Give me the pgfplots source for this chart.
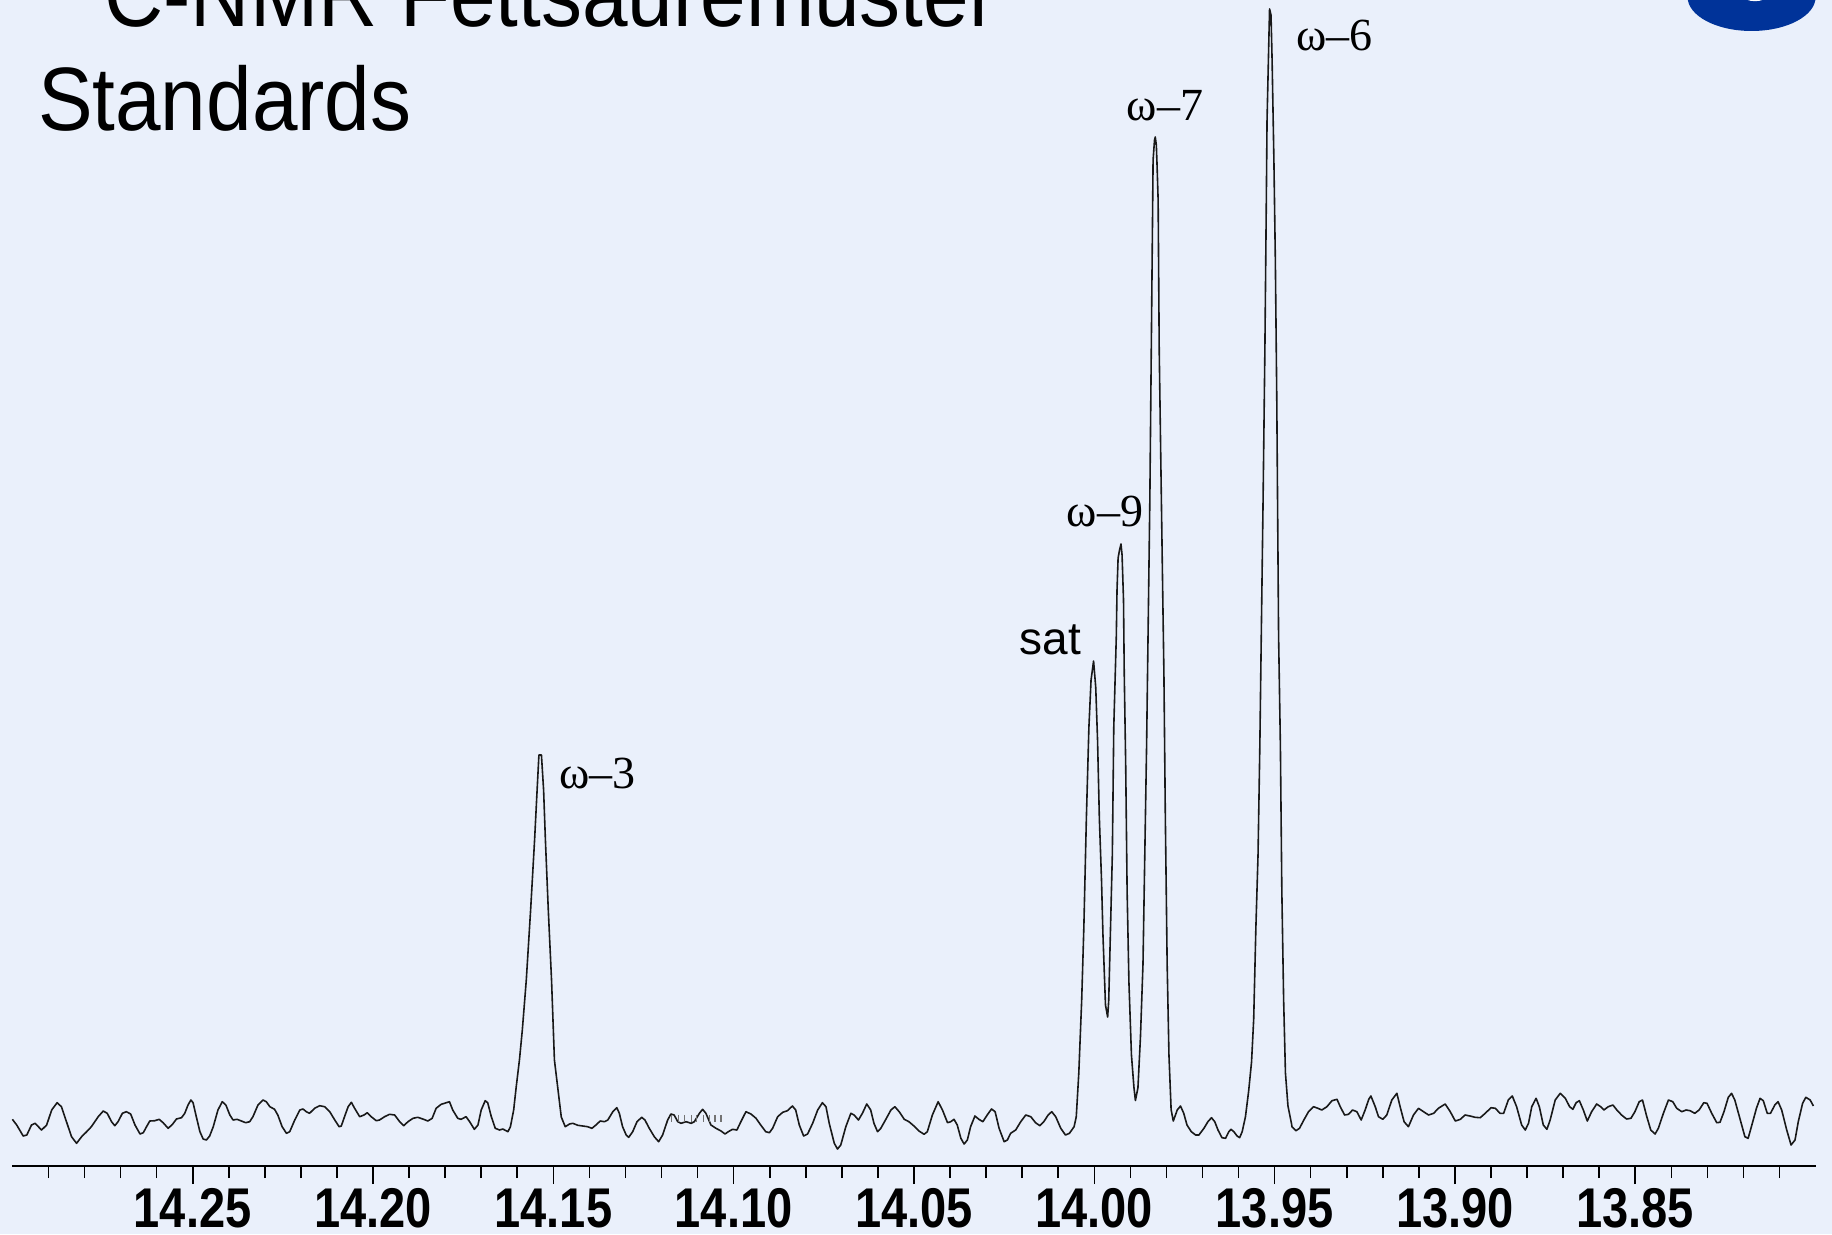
\documentclass[border=0pt]{standalone}
\usepackage{pgfplots}
\pgfplotsset{compat=1.18}
\usepackage{fontspec}
\setmainfont{Liberation Sans}
\newfontfamily\titlefont[FakeStretch=0.91]{Liberation Sans}
\newfontfamily\tickfont[FakeStretch=0.84]{Liberation Sans Bold}
\newfontfamily\peakfont{Liberation Serif}
\definecolor{bg}{RGB}{234,240,251}
\definecolor{logo}{RGB}{0,51,153}
\definecolor{trace}{RGB}{25,25,25}
\pgfplotstableread{
ppm h
14.3000 46.7
14.2988 41.0
14.2970 30.0
14.2960 31.0
14.2947 41.0
14.2937 42.7
14.2928 39.3
14.2919 36.0
14.2905 41.0
14.2891 56.0
14.2876 63.3
14.2864 59.3
14.2850 44.3
14.2836 29.3
14.2822 22.7
14.2808 29.3
14.2794 34.3
14.2781 39.3
14.2762 49.3
14.2748 55.0
14.2737 52.7
14.2725 44.3
14.2716 40.3
14.2707 44.3
14.2695 52.7
14.2684 54.3
14.2672 52.0
14.2660 41.0
14.2646 32.0
14.2637 33.3
14.2628 39.3
14.2619 45.0
14.2605 45.3
14.2593 46.7
14.2582 43.3
14.2568 37.7
14.2556 41.7
14.2545 47.0
14.2531 48.3
14.2522 52.7
14.2513 61.0
14.2505 66.0
14.2499 63.3
14.2490 49.3
14.2480 34.3
14.2471 27.0
14.2462 26.0
14.2453 30.0
14.2443 39.3
14.2430 56.0
14.2418 64.3
14.2408 61.0
14.2397 51.0
14.2388 46.0
14.2377 46.7
14.2365 45.0
14.2353 43.3
14.2342 44.3
14.2333 49.3
14.2319 61.0
14.2305 66.0
14.2296 64.3
14.2286 59.3
14.2273 56.7
14.2264 51.0
14.2252 39.3
14.2240 32.7
14.2231 34.3
14.2217 46.0
14.2203 56.0
14.2194 57.0
14.2185 54.3
14.2176 52.7
14.2162 57.7
14.2148 60.3
14.2134 59.3
14.2120 54.3
14.2106 46.0
14.2094 39.3
14.2088 40.0
14.2079 49.3
14.2069 59.3
14.2060 63.7
14.2051 57.7
14.2037 49.3
14.2025 51.0
14.2016 53.3
14.2005 49.3
14.1991 45.3
14.1982 46.0
14.1968 49.3
14.1954 51.7
14.1940 51.0
14.1926 44.3
14.1915 40.3
14.1903 44.3
14.1889 47.7
14.1876 48.7
14.1862 47.0
14.1848 45.0
14.1836 47.7
14.1825 57.7
14.1811 61.7
14.1802 62.7
14.1788 64.3
14.1779 56.0
14.1765 47.7
14.1756 46.7
14.1742 49.3
14.1732 44.3
14.1719 36.7
14.1709 41.0
14.1700 56.0
14.1689 65.3
14.1682 63.3
14.1672 49.3
14.1661 37.7
14.1649 36.0
14.1640 37.0
14.1626 34.3
14.1619 39.3
14.1610 56
14.1603 79
14.1594 106
14.1586 136
14.1575 186
14.1563 256
14.1552 326
14.1545 376
14.1540 411
14.1533 411
14.1527 376
14.1522 326
14.1514 256
14.1505 186
14.1500 136
14.1497 106
14.1488 79
14.1478 49
14.1467 39.3
14.1455 42.0
14.1446 42.7
14.1432 40.7
14.1418 40.0
14.1405 39.3
14.1393 37.7
14.1382 41.0
14.1370 45.0
14.1358 44.3
14.1349 46.0
14.1335 54.3
14.1324 58.3
14.1317 52.7
14.1308 39.3
14.1298 31.0
14.1291 28.7
14.1280 34.3
14.1268 44.3
14.1255 48.7
14.1246 46.0
14.1234 37.7
14.1220 29.3
14.1208 24.3
14.1197 31.0
14.1183 46.0
14.1174 52.0
14.1165 51.0
14.1155 44.3
14.1146 42.7
14.1132 44.3
14.1118 42.7
14.1109 44.3
14.1095 52.7
14.1086 56.7
14.1077 52.7
14.1063 41.0
14.1049 37.7
14.1035 35.0
14.1024 32.0
14.1015 34.3
14.1003 36.7
14.0991 36.0
14.0980 44.3
14.0966 54.3
14.0952 52.0
14.0938 47.7
14.0925 41.0
14.0911 34.3
14.0901 33.3
14.0892 37.7
14.0878 49.3
14.0864 53.7
14.0851 55.3
14.0837 60.0
14.0828 56.0
14.0818 41.0
14.0806 30.0
14.0795 32.0
14.0781 42.7
14.0767 56.0
14.0754 63.3
14.0744 59.3
14.0735 42.7
14.0721 22.7
14.0712 17.0
14.0703 21.0
14.0689 39.3
14.0675 52.7
14.0666 51.0
14.0654 46.0
14.0643 52.7
14.0631 62.0
14.0620 56.0
14.0611 42.7
14.0601 34.3
14.0592 37.7
14.0578 46.7
14.0564 56.0
14.0553 59.3
14.0541 54.3
14.0527 46.7
14.0514 44.3
14.0500 40.0
14.0486 35.0
14.0472 31.7
14.0463 34.3
14.0449 51.0
14.0433 64.3
14.0421 56.0
14.0407 43.3
14.0398 44.3
14.0389 46.7
14.0380 41.0
14.0370 27.7
14.0361 22.0
14.0352 26.0
14.0343 39.3
14.0331 50.0
14.0320 46.7
14.0309 44.3
14.0297 51.0
14.0285 57.0
14.0275 54.3
14.0264 37.7
14.0250 24.3
14.0241 26.0
14.0232 32.7
14.0218 36.0
14.0204 44.3
14.0190 51.0
14.0176 49.3
14.0163 43.3
14.0151 40.3
14.0140 44.3
14.0128 51.0
14.0118 54.3
14.0107 49.3
14.0093 37.7
14.0080 31.0
14.0069 32.7
14.0056 39.3
14.0050 49.3
14.0043 92.8
14.0035 165.6
14.0029 238.4
14.0022 347.6
14.0015 438.6
14.0009 486
14.0002 505
13.9996 478.6
13.9991 426
13.9986 348
13.9980 286
13.9976 231
13.9969 161
13.9963 149
13.9960 165.6
13.9955 238.4
13.9950 311.2
13.9946 438.6
13.9939 529.6
13.9937 576
13.9934 608
13.9930 616
13.9926 622
13.9923 611
13.9919 566
13.9917 493.2
13.9913 402.2
13.9909 274.8
13.9904 183.8
13.9897 111
13.9890 78.2
13.9886 65.5
13.9879 78.2
13.9872 129.2
13.9865 202
13.9860 311.2
13.9855 420.4
13.9851 529.6
13.9846 666
13.9842 816
13.9837 1006
13.9833 1026
13.9831 1029
13.9828 1021
13.9826 1001
13.9823 966
13.9820 816
13.9814 666
13.9810 566
13.9807 493.2
13.9803 347.6
13.9798 202
13.9793 111
13.9787 56.4
13.9781 45
13.9770 56.0
13.9761 60.0
13.9752 52.7
13.9743 41.0
13.9731 34.3
13.9719 31.0
13.9710 31.0
13.9696 37.7
13.9685 44.3
13.9675 48.3
13.9666 44.3
13.9657 36.0
13.9646 28.3
13.9636 27.7
13.9627 34.3
13.9621 36.7
13.9613 34.3
13.9604 30.0
13.9597 28.3
13.9590 34.3
13.9581 49
13.9572 75
13.9564 104
13.9558 147
13.9552 238
13.9546 311
13.9541 420
13.9537 530
13.9532 666
13.9527 816
13.9523 966
13.9521 1046
13.9516 1126
13.9514 1157
13.9510 1151
13.9507 1106
13.9502 1006
13.9498 906
13.9494 766
13.9489 530
13.9484 420
13.9480 275
13.9475 166
13.9470 93
13.9463 60
13.9453 42
13.9452 39.3
13.9441 35.3
13.9431 37.7
13.9419 46.0
13.9406 54.3
13.9392 59.3
13.9380 57.7
13.9369 56.0
13.9355 59.3
13.9341 65.3
13.9327 66.7
13.9318 59.3
13.9306 51.0
13.9295 51.7
13.9284 56.0
13.9272 54.3
13.9260 46.0
13.9249 56.0
13.9239 66.7
13.9233 70.0
13.9221 59.3
13.9212 49.3
13.9200 46.7
13.9189 51.0
13.9175 66.0
13.9161 72.7
13.9152 59.3
13.9141 44.3
13.9129 39.3
13.9115 51.0
13.9101 57.7
13.9087 54.3
13.9073 51.0
13.9059 52.7
13.9046 57.7
13.9027 62.0
13.9013 54.3
13.8999 45.0
13.8985 46.7
13.8972 51.0
13.8958 50.0
13.8944 48.7
13.8930 48.3
13.8916 52.7
13.8900 58.3
13.8888 57.7
13.8875 52.7
13.8865 52.7
13.8852 66.0
13.8841 70.0
13.8829 59.3
13.8815 41.0
13.8805 36.0
13.8796 42.7
13.8787 59.3
13.8775 67.7
13.8766 59.3
13.8755 41.0
13.8745 36.7
13.8736 46.0
13.8722 66.0
13.8708 72.7
13.8694 67.7
13.8682 59.3
13.8673 56.7
13.8664 63.3
13.8655 65.3
13.8644 56.0
13.8633 45.0
13.8621 54.3
13.8607 62.0
13.8596 59.3
13.8587 56.0
13.8575 59.3
13.8562 61.0
13.8551 56.0
13.8538 51.0
13.8524 47.0
13.8512 47.7
13.8501 54.3
13.8489 64.3
13.8480 66.0
13.8468 49.3
13.8457 36.0
13.8445 32.0
13.8436 37.7
13.8422 52.7
13.8408 66.0
13.8396 64.3
13.8385 57.7
13.8371 54.3
13.8359 56.0
13.8348 55.3
13.8335 52.7
13.8323 56.0
13.8310 63.3
13.8301 62.7
13.8288 52.7
13.8274 43.3
13.8265 43.7
13.8254 54.3
13.8242 68.7
13.8233 72.7
13.8224 66.0
13.8210 47.7
13.8196 29.3
13.8187 27.7
13.8178 39.3
13.8164 57.7
13.8154 67.7
13.8145 65.3
13.8134 52.7
13.8125 52.7
13.8113 61.0
13.8104 64.3
13.8094 56.0
13.8080 36.0
13.8068 21.0
13.8057 26.0
13.8048 44.3
13.8036 62.7
13.8027 68.7
13.8015 66.0
13.8006 60.0
}\spectrum
\begin{document}
\begin{tikzpicture}
\useasboundingbox (0,0) rectangle (458pt,308.5pt);
\fill[bg] (0,0) rectangle (458pt,308.5pt);
\fill[logo] (437.9pt,309.25pt) ellipse [x radius=16pt, y radius=8.5pt];
\fill[white] (438.75pt,309.6pt) ellipse [x radius=3pt, y radius=1.4pt];
\node[anchor=base west, inner sep=0pt, font=\titlefont\fontsize{22.5}{27}\selectfont] at (9.5pt,301.75pt) {\textsuperscript{13}C-NMR Fettsäuremuster};
\node[anchor=base west, inner sep=0pt, font=\titlefont\fontsize{22.5}{27}\selectfont] at (9.3pt,275.75pt) {Standards};
\begin{axis}[
  at={(3.1pt,17pt)}, anchor=south west,
  scale only axis, width=450.8pt, height=291.5pt,
  xmin=13.80, xmax=14.30, ymin=0, ymax=1166,
  x dir=reverse,
  axis x line*=bottom, axis y line=none,
  x axis line style={-, line width=0.7pt, black},
  ytick=\empty,
  xtick={13.85,13.90,13.95,14.00,14.05,14.10,14.15,14.20,14.25},
  xticklabels={13.85,13.90,13.95,14.00,14.05,14.10,14.15,14.20,14.25},
  minor xtick={13.81,13.82,13.83,13.84,13.86,13.87,13.88,13.89,13.91,13.92,13.93,13.94,13.96,13.97,13.98,13.99,14.01,14.02,14.03,14.04,14.06,14.07,14.08,14.09,14.11,14.12,14.13,14.14,14.16,14.17,14.18,14.19,14.21,14.22,14.23,14.24,14.26,14.27,14.28,14.29},
  tick align=outside,
  major tick length=4.5pt, minor tick length=3pt,
  every tick/.style={black, line width=0.4pt},
  xticklabel style={font=\tickfont\bfseries\fontsize{14}{16}\selectfont, anchor=north, inner sep=0pt, yshift=-1pt},
  clip=false,
]
\addplot[trace, line width=0.4pt, line join=round] table[x=ppm, y=h] {\spectrum};
\addplot[only marks, mark=|, mark size=0.85pt, black!55, mark options={line width=0.3pt}] coordinates {
(14.1172,47.7) (14.1154,47.7) (14.1137,47.7) (14.1118,47.7) (14.1102,47.7) (14.1083,47.7) (14.1068,47.7) (14.1052,47.7) (14.1035,47.7)};
\node[anchor=base west, inner sep=0pt, font=\peakfont\fontsize{11.5}{13}\selectfont] at (axis cs:14.1486,377.7) {ω–3};
\node[anchor=base west, inner sep=0pt, font=\fontsize{11.5}{13}\selectfont] at (axis cs:14.0209,512) {sat};
\node[anchor=base west, inner sep=0pt, font=\peakfont\fontsize{11.5}{13}\selectfont] at (axis cs:14.0078,640) {ω–9};
\node[anchor=base west, inner sep=0pt, font=\peakfont\fontsize{11.5}{13}\selectfont] at (axis cs:13.9912,1046) {ω–7};
\node[anchor=base west, inner sep=0pt, font=\peakfont\fontsize{11.5}{13}\selectfont] at (axis cs:13.9442,1115.3) {ω–6};
\end{axis}
\end{tikzpicture}
\end{document}
